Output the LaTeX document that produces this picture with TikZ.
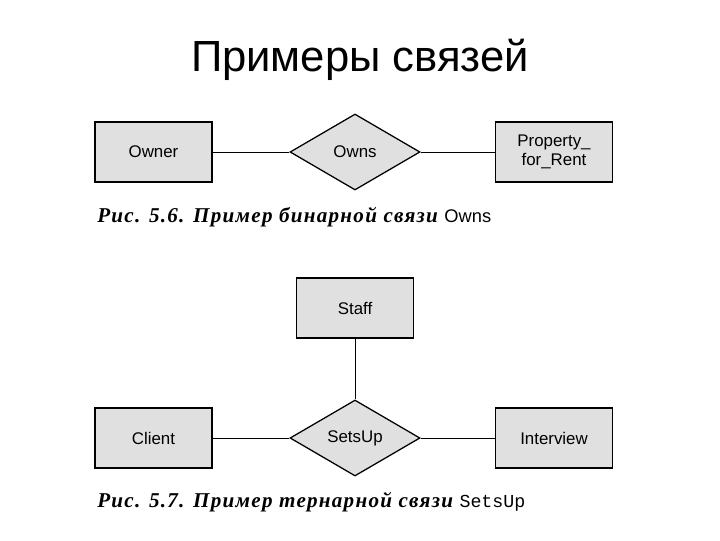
\documentclass[tikz,border=0pt]{standalone}
\usepackage{fontspec}
\setmainfont{Liberation Serif}
\setsansfont{Liberation Sans}
\setmonofont{Liberation Mono}
\usetikzlibrary{shapes.geometric, positioning}
\definecolor{scangray}{RGB}{224,224,224}
\tikzset{
  basebox/.style={draw=black, line width=0.9pt, fill=scangray, align=center,
    font=\sffamily\fontsize{12}{13}\selectfont},
  entitybox/.style={basebox, rectangle, minimum width=2.925cm, minimum height=1.5cm},
  relbox/.style={basebox, diamond, aspect=1.73, inner sep=0pt,
    minimum width=3.25cm, minimum height=1.9cm},
  link/.style={draw=black, line width=0.6pt},
  capt/.style={anchor=west, inner sep=0pt,
    font=\rmfamily\bfseries\itshape\fontsize{15}{17}\selectfont\addfontfeatures{LetterSpace=6}}
}
\begin{document}
\begin{tikzpicture}[x=0.025cm, y=-0.025cm]
  \useasboundingbox[fill=white] (0,0) rectangle (720,540);

  \node[font=\sffamily\fontsize{31}{36}\selectfont] (title) at (360,60) {Примеры связей};

  % binary relationship
  \node[relbox] (owns) at (355,152) {Owns};
  \node[entitybox] (owner) at (153.5,152) {Owner};
  \node[entitybox] (prop) at (554,152) {Property\_\\for\_Rent};
  \draw[link] (owner) -- (owns);
  \draw[link] (owns) -- (prop);
  \node[capt] (capa) at (97,217) {Рис. 5.6. Пример бинарной связи {\sffamily\mdseries\upshape\fontsize{13}{14}\selectfont Owns}};

  % ternary relationship
  \node[relbox] (setsup) at (355,438) {SetsUp};
  \node[entitybox] (staff) at (355,308) {Staff};
  \node[entitybox] (client) at (153.5,438) {Client};
  \node[entitybox] (interview) at (554,438) {Interview};
  \draw[link] (staff) -- (setsup);
  \draw[link] (client) -- (setsup);
  \draw[link] (setsup) -- (interview);
  \node[capt] (capb) at (97,502) {Рис. 5.7. Пример тернарной связи {\ttfamily\mdseries\upshape\fontsize{13}{14}\selectfont SetsUp}};
\end{tikzpicture}
\end{document}
